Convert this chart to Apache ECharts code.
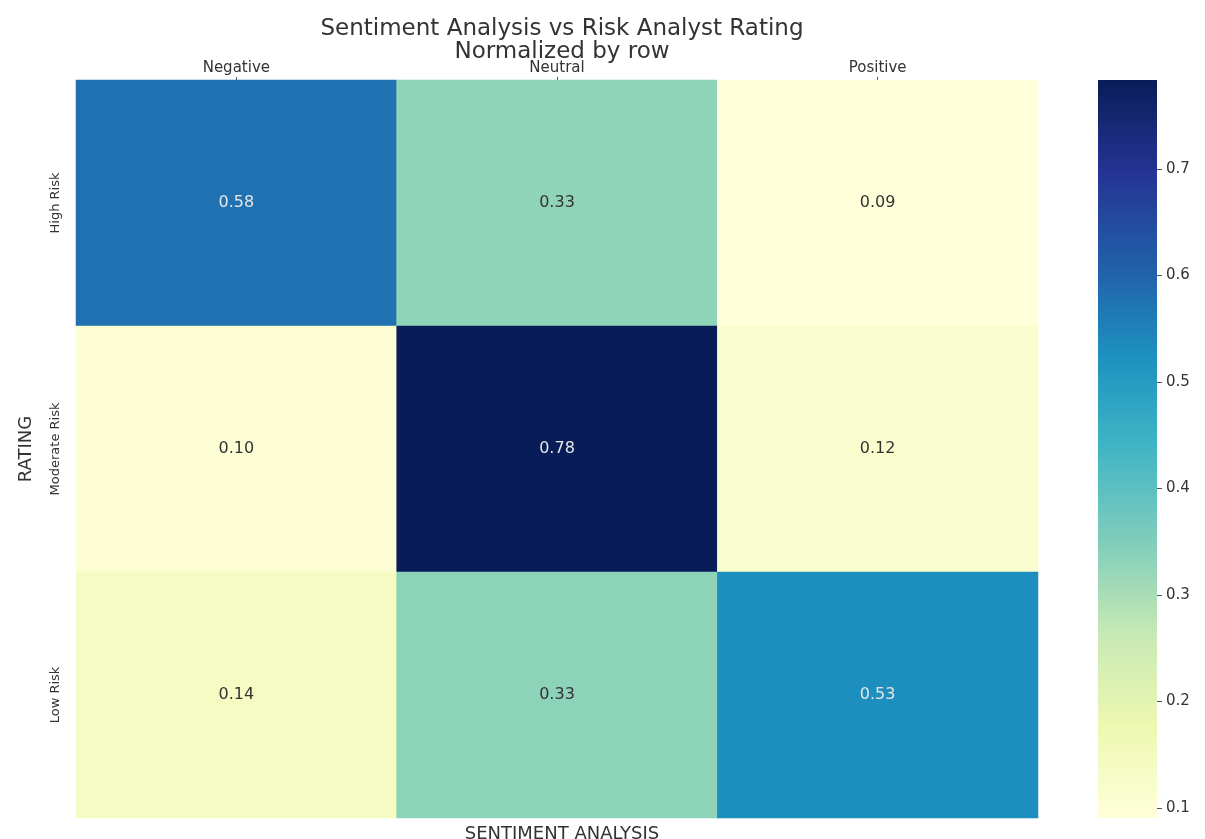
<!DOCTYPE html>
<html>
<head>
<meta charset="utf-8">
<title>Sentiment Analysis vs Risk Analyst Rating</title>
<script src="https://cdn.jsdelivr.net/npm/echarts@6/dist/echarts.min.js"></script>
<style>
  html, body { margin: 0; padding: 0; background: #ffffff; }
  #chart { width: 1205px; height: 839px; }
</style>
</head>
<body>
<div id="chart"></div>
<script>
// Sentiment categories (columns) and analyst rating categories (rows)
const sentiments = ['Negative', 'Neutral', 'Positive'];
const ratings = ['High Risk', 'Moderate Risk', 'Low Risk'];

// Row-normalized shares, one array per rating row
const highRisk = [0.5783, 0.3311, 0.0906];
const moderateRisk = [0.1012, 0.7836, 0.1152];
const lowRisk = [0.1389, 0.3333, 0.5278];

// Colour bar tick values
const colorbarTicks = [0.1, 0.2, 0.3, 0.4, 0.5, 0.6, 0.7];

// YlGnBu colour ramp
const ylGnBu = ['#ffffd9', '#edf8b1', '#c7e9b4', '#7fcdbb', '#41b6c4',
                '#1d91c0', '#225ea8', '#253494', '#081d58'];

const rows = [highRisk, moderateRisk, lowRisk];
const allValues = rows.flat();
const vMin = Math.min(...allValues);
const vMax = Math.max(...allValues);
const textFont = "'DejaVu Sans', sans-serif";

// Heatmap cells: [columnIndex, rowIndex, value]; dark cells get light text
const cells = [];
rows.forEach((row, r) => {
  row.forEach((v, c) => {
    const t = (v - vMin) / (vMax - vMin);
    cells.push({
      value: [c, r, v],
      label: { color: t > 0.6 ? '#e6e6e6' : '#333333' }
    });
  });
});

// Vertical gradient for the colour bar, low values at the bottom
const colorbarFill = {
  type: 'linear', x: 0, y: 1, x2: 0, y2: 0,
  colorStops: ylGnBu.map((c, i) => ({ offset: i / (ylGnBu.length - 1), color: c }))
};

const chart = echarts.init(document.getElementById('chart'), null, { renderer: 'canvas' });

chart.setOption({
  backgroundColor: '#ffffff',
  animation: false,
  title: [
    {
      text: 'Sentiment Analysis vs Risk Analyst Rating\nNormalized by row',
      left: 557,
      top: 13,
      textAlign: 'center',
      textStyle: {
        fontFamily: textFont,
        fontSize: 23,
        fontWeight: 'normal',
        lineHeight: 23,
        color: '#333333'
      }
    },
    {
      text: 'SENTIMENT ANALYSIS',
      left: 557,
      top: 820,
      textAlign: 'center',
      textStyle: {
        fontFamily: textFont,
        fontSize: 18,
        fontWeight: 'normal',
        color: '#333333'
      }
    }
  ],
  grid: [
    { left: 76, top: 80, width: 962, height: 738 },
    {
      left: 1098, top: 80, width: 59, height: 738,
      show: true, backgroundColor: colorbarFill, borderWidth: 0
    }
  ],
  xAxis: [
    {
      type: 'category',
      gridIndex: 0,
      data: sentiments,
      position: 'top',
      axisLine: { show: false },
      axisTick: { show: true, alignWithLabel: true, length: 3, lineStyle: { color: '#555555' } },
      axisLabel: { margin: 4, fontFamily: textFont, fontSize: 15, color: '#333333' },
      splitLine: { show: false }
    },
    {
      type: 'value',
      gridIndex: 1,
      show: false
    }
  ],
  yAxis: [
    {
      type: 'category',
      gridIndex: 0,
      data: ratings,
      inverse: true,
      axisLine: { show: false },
      axisTick: { show: false },
      axisLabel: {
        rotate: 90,
        margin: 14,
        fontFamily: textFont,
        fontSize: 13,
        color: '#333333'
      },
      name: 'RATING',
      nameLocation: 'middle',
      nameRotate: 90,
      nameGap: 41,
      nameTextStyle: { fontFamily: textFont, fontSize: 18, color: '#333333' },
      splitLine: { show: false }
    },
    {
      type: 'value',
      gridIndex: 1,
      position: 'right',
      min: vMin,
      max: vMax,
      axisLine: { show: false, onZero: false },
      splitLine: { show: false },
      axisTick: {
        show: true,
        length: 5,
        customValues: colorbarTicks,
        lineStyle: { color: '#555555' }
      },
      axisLabel: {
        margin: 9,
        customValues: colorbarTicks,
        formatter: (v) => v.toFixed(1),
        fontFamily: textFont,
        fontSize: 15,
        color: '#333333'
      }
    }
  ],
  visualMap: {
    type: 'continuous',
    show: false,
    seriesIndex: 0,
    min: vMin,
    max: vMax,
    inRange: { color: ylGnBu }
  },
  series: [
    {
      type: 'heatmap',
      xAxisIndex: 0,
      yAxisIndex: 0,
      data: cells,
      label: {
        show: true,
        formatter: (p) => p.value[2].toFixed(2),
        fontFamily: textFont,
        fontSize: 16
      },
      itemStyle: { borderWidth: 0 },
      emphasis: { disabled: true }
    },
    {
      type: 'scatter',
      xAxisIndex: 1,
      yAxisIndex: 1,
      data: [],
      silent: true
    }
  ]
});
</script>
</body>
</html>
